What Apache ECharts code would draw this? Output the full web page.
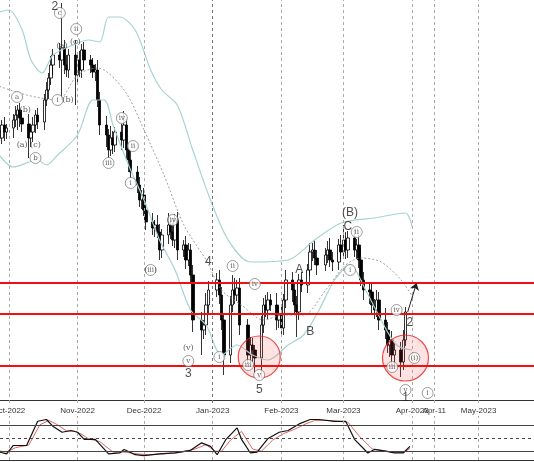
<!DOCTYPE html>
<html><head><meta charset="utf-8">
<script src="https://cdn.jsdelivr.net/npm/echarts@6/dist/echarts.min.js"></script>
<style>html,body{margin:0;padding:0;background:#fff}#c{width:534px;height:462px}</style>
</head><body><div id="c"></div>
<script>
const dates = [
'2022-09-26','2022-09-27','2022-09-28','2022-09-29','2022-09-30',
'2022-10-03','2022-10-04','2022-10-05','2022-10-06','2022-10-07',
'2022-10-10','2022-10-11','2022-10-12','2022-10-13','2022-10-14',
'2022-10-17','2022-10-18','2022-10-19','2022-10-20','2022-10-21',
'2022-10-24','2022-10-25','2022-10-26','2022-10-27','2022-10-28',
'2022-10-31','2022-11-01','2022-11-02','2022-11-03','2022-11-04',
'2022-11-07','2022-11-08','2022-11-09','2022-11-10','2022-11-11',
'2022-11-14','2022-11-15','2022-11-16','2022-11-17','2022-11-18',
'2022-11-21','2022-11-22','2022-11-23','2022-11-24','2022-11-25',
'2022-11-28','2022-11-29','2022-11-30','2022-12-01','2022-12-02',
'2022-12-05','2022-12-06','2022-12-07','2022-12-08','2022-12-09',
'2022-12-12','2022-12-13','2022-12-14','2022-12-15','2022-12-16',
'2022-12-19','2022-12-20','2022-12-21','2022-12-22','2022-12-23',
'2022-12-27','2022-12-28','2022-12-29','2022-12-30',
'2023-01-03','2023-01-04','2023-01-05','2023-01-06',
'2023-01-09','2023-01-10','2023-01-11','2023-01-12','2023-01-13',
'2023-01-17','2023-01-18','2023-01-19','2023-01-20',
'2023-01-23','2023-01-24','2023-01-25','2023-01-26','2023-01-27',
'2023-01-30','2023-01-31','2023-02-01','2023-02-02','2023-02-03',
'2023-02-06','2023-02-07','2023-02-08','2023-02-09','2023-02-10',
'2023-02-13','2023-02-14','2023-02-15','2023-02-16','2023-02-17',
'2023-02-21','2023-02-22','2023-02-23','2023-02-24',
'2023-02-27','2023-02-28','2023-03-01','2023-03-02','2023-03-03',
'2023-03-06','2023-03-07','2023-03-08','2023-03-09','2023-03-10',
'2023-03-13','2023-03-14','2023-03-15','2023-03-16','2023-03-17',
'2023-03-20','2023-03-21','2023-03-22','2023-03-23','2023-03-24',
'2023-03-27','2023-03-28','2023-03-29'];
const closes = [
270,262,275,268,272, 280,285,290,282,276, 262,268,275,285,278,
300,310,322,335,345, 340,352,335,330,345, 325,340,330,350,340,
335,328,330,300,275, 265,250,262,255,268, 260,275,250,240,228,
215,200,205,190,178, 172,175,168,150,165, 175,168,160,180,150,
155,140,150,125,80, 70,75,95,110, 120,105,80,45,
95,110,105,112,75, 45,55,50,42, 75,95,90,100,95,
80,85,72,100,120, 110,95,88,120,115, 130,148,150,142,135,
145,150,140,138, 155,148,160,150,162, 150,155,140,120,110,
108,95,90,100,80, 70,55,60,45,50, 38,60,88];
const upWick = [
6,10,5,8,4, 6,9,5,7,8, 10,6,8,5,7, 6,8,5,9,6, 12,45,8,10,6, 15,7,9,6,8,
5,7,6,10,8, 9,6,12,7,5, 8,14,6,7,9, 6,8,5,7,6, 9,5,10,8,6, 12,7,9,6,8,
5,9,7,6,10, 8,5,12,9, 7,10,8,6, 9,15,12,8,10, 6,8,7,5, 9,7,10,8,6,
12,8,9,6,10, 8,7,9,6,8, 6,9,7,10,8, 7,9,12,8, 6,10,15,8,7, 9,6,10,12,8,
7,9,6,10,8, 12,8,6,9,7, 8,10,5];
const downWick = [
8,12,6,9,7, 10,7,15,9,8, 20,9,10,8,7, 8,6,9,7,10, 8,40,9,7,8, 30,9,7,8,10,
8,6,9,7,10, 12,8,6,9,7, 10,8,9,12,6, 8,7,9,6,8, 7,9,6,10,8, 9,7,6,8,10,
7,9,6,8,12, 25,9,10,8, 7,9,10,20, 8,7,9,6,10, 9,8,12,15, 20,8,7,9,6,
10,8,9,7,8, 12,9,25,8,7, 8,6,9,7,10, 6,8,7,9, 8,7,6,9,8, 7,9,8,6,10,
12,8,9,7,10, 9,8,12,10,9, 15,8,6];
const bandUpper = [['2022-09-25',387],['2022-10-01',390],['2022-10-07',370],['2022-10-11',340],['2022-10-16',327],['2022-10-21',345],['2022-10-30',355],['2022-11-06',360],['2022-11-11',358],['2022-11-15',383],['2022-11-20',383],['2022-11-27',370],['2022-12-04',330],['2022-12-09',310],['2022-12-16',295],['2022-12-23',250],['2022-12-31',200],['2023-01-08',160],['2023-01-18',138],['2023-02-04',140],['2023-02-16',160],['2023-02-28',177],['2023-03-15',182],['2023-03-29',187],['2023-04-01',173]];
const bandLower = [['2022-09-25',250],['2022-10-03',233],['2022-10-14',240],['2022-10-18',235],['2022-10-23',245],['2022-11-01',265],['2022-11-08',300],['2022-11-13',300],['2022-11-17',275],['2022-11-24',235],['2022-12-01',200],['2022-12-08',160],['2022-12-15',130],['2022-12-22',90],['2022-12-29',75],['2023-01-05',45],['2023-01-12',55],['2023-01-19',45],['2023-01-26',40],['2023-02-04',55],['2023-02-11',65],['2023-02-18',90],['2023-02-25',120],['2023-03-04',135],['2023-03-11',110],['2023-03-18',80],['2023-03-25',55],['2023-04-01',50]];
const sma = [['2022-09-25',315],['2022-10-09',305],['2022-10-23',300],['2022-11-01',325],['2022-11-10',332],['2022-11-22',310],['2022-12-01',270],['2022-12-10',225],['2022-12-19',175],['2022-12-29',140],['2023-01-05',110],['2023-01-14',95],['2023-01-24',80],['2023-02-02',85],['2023-02-11',85],['2023-02-21',110],['2023-03-02',135],['2023-03-09',142],['2023-03-18',138],['2023-03-27',120],['2023-04-02',100]];
const oscK = [['2022-09-25',20],['2022-09-30',14],['2022-10-03',33],['2022-10-09',33],['2022-10-14',88],['2022-10-18',92],['2022-10-21',76],['2022-10-25',63],['2022-10-29',67],['2022-11-01',63],['2022-11-04',47],['2022-11-09',47],['2022-11-15',14],['2022-11-20',16],['2022-11-22',24],['2022-11-27',12],['2022-12-01',10],['2022-12-08',14],['2022-12-15',16],['2022-12-22',22],['2022-12-27',39],['2022-12-31',31],['2023-01-03',12],['2023-01-07',47],['2023-01-12',73],['2023-01-14',47],['2023-01-18',16],['2023-01-21',18],['2023-01-26',49],['2023-01-31',63],['2023-02-04',67],['2023-02-09',82],['2023-02-14',92],['2023-02-18',92],['2023-02-25',88],['2023-03-02',88],['2023-03-06',47],['2023-03-12',16],['2023-03-15',24],['2023-03-20',20],['2023-03-24',16],['2023-03-28',16],['2023-03-31',31]];
const oscD = [['2022-09-25',22],['2022-09-30',18],['2022-10-04',28],['2022-10-10',34],['2022-10-15',80],['2022-10-19',90],['2022-10-23',80],['2022-10-27',66],['2022-10-31',65],['2022-11-03',58],['2022-11-06',48],['2022-11-11',42],['2022-11-17',18],['2022-11-22',18],['2022-11-28',14],['2022-12-03',12],['2022-12-10',14],['2022-12-17',17],['2022-12-24',25],['2022-12-29',35],['2023-01-02',20],['2023-01-05',20],['2023-01-09',45],['2023-01-14',65],['2023-01-19',25],['2023-01-23',20],['2023-01-28',45],['2023-02-02',60],['2023-02-07',70],['2023-02-12',82],['2023-02-16',90],['2023-02-22',90],['2023-03-03',86],['2023-03-08',55],['2023-03-14',25],['2023-03-18',22],['2023-03-23',18],['2023-03-28',17],['2023-03-31',26]];
const hLevels = [117, 86, 34];
const oscLevels = [80, 50, 20];
const monthTicks = ['2022-10-01','2022-11-01','2022-12-01','2023-01-01','2023-02-01','2023-03-01','2023-04-01','2023-04-11','2023-05-01'];
const monthNames = ['Jan','Feb','Mar','Apr','May','Jun','Jul','Aug','Sep','Oct','Nov','Dec'];
const waveLabels = [
[20.7,393,'2','big'],[81,26,'3','big'],[90,138,'4','big'],[113,10,'5','big'],
[131,130,'A','big'],[136,68,'B','big'],[153,173,'C','big'],[154,187,'(B)','big'],
[181,77,'2','big'],[179,2,'1','big'],
[23,387,'c','circ'],[30.4,371,'ii','circ'],[24,354,'(a)','plain'],[30,358,'(c)','plain'],
[22,300,'i','circ'],[26.7,300,'(b)','plain'],[3.7,303,'a','circ'],[7.4,290,'(b)','plain'],
[6,255,'(a)','plain'],[12,255,'(c)','plain'],[12,242,'b','circ'],
[51,282,'iv','circ'],[56,254,'ii','circ'],[45,237,'iii','circ'],[55,217,'i','circ'],
[74,180,'(iv)','circ'],[64,130,'(iii)','circ'],[81,52,'(v)','plain'],[81,39,'v','circ'],
[101,134,'ii','circ'],[95,43,'i','circ'],[111,116,'iv','circ'],[108,35,'iii','circ'],[113,25,'v','circ'],
[154,130,'i','circ'],[157,168,'ii','circ'],[175,90,'iv','circ'],[173,33,'iii','circ'],
[183,42,'(i)','circ'],[179,10,'v','circ'],[189,7,'i','circ']];
const redCircles = [['2023-01-22',43,42],['2023-03-29',42,46]];
const arrowSeg = [['2023-03-30',88],['2023-04-03',117]];

const ts = s => new Date(s + 'T00:00:00Z').getTime();
const day0 = Date.UTC(2022, 9, 1);
const candles = dates.map((d, i) => {
  const o = i === 0 ? closes[0] - 4 : closes[i - 1];
  const c = closes[i];
  return [ts(d), o, c, Math.min(o, c) - downWick[i], Math.max(o, c) + upWick[i]];
});
const xMin = ts('2022-09-27'), xMax = ts('2023-05-26');
const fmt = v => { const d = new Date(v); return d.getUTCDate() === 11 ? 'Apr-11' : monthNames[d.getUTCMonth()] + '-' + d.getUTCFullYear(); };

const labelSeries = ['big', 'circ', 'plain'].map(st => ({
  type: 'scatter', xAxisIndex: 0, yAxisIndex: 0, z: 5,
  symbol: 'circle', symbolSize: st === 'circ' ? 11 : 1,
  itemStyle: st === 'circ' ? { color: '#fff', borderColor: '#666', borderWidth: 0.8 } : { color: 'rgba(0,0,0,0)' },
  label: {
    show: true, position: 'inside', formatter: p => p.data[2],
    fontFamily: st === 'big' ? 'Liberation Sans' : 'DejaVu Serif',
    fontSize: st === 'big' ? 12 : (st === 'circ' ? 7 : 8), color: st === 'big' ? '#222' : '#333'
  },
  data: waveLabels.filter(l => l[3] === st).map(l => [day0 + l[0] * 864e5, l[1], l[2]])
}));

const chart = echarts.init(document.getElementById('c'));
chart.setOption({
  animation: false,
  grid: [{ left: 0, right: 0, top: 0, bottom: 59, outerBoundsMode: 'none', containLabel: false },
         { left: 0, right: 0, top: 416, height: 44, outerBoundsMode: 'none', containLabel: false }],
  xAxis: [
    { type: 'value', gridIndex: 0, min: xMin, max: xMax,
      axisLine: { lineStyle: { color: '#333' } }, splitLine: { show: false },
      axisTick: { customValues: monthTicks.map(ts), length: 3, lineStyle: { color: '#333' } },
      axisLabel: { customValues: monthTicks.map(ts), formatter: fmt, fontSize: 8, color: '#333', margin: 4, fontFamily: 'Liberation Sans', hideOverlap: false } },
    { type: 'value', gridIndex: 1, min: xMin, max: xMax, axisLabel: { show: false }, axisTick: { show: false },
      axisLine: { lineStyle: { color: '#333' } }, splitLine: { show: false } }
  ],
  yAxis: [
    { type: 'value', gridIndex: 0, min: -3, max: 400, show: false, splitLine: { show: false } },
    { type: 'value', gridIndex: 1, min: 0, max: 100, show: false, splitLine: { show: false } }
  ],
  series: [
    { type: 'line', xAxisIndex: 0, yAxisIndex: 0, data: [], symbol: 'none',
      markLine: { silent: true, symbol: 'none', label: { show: false },
        data: monthTicks.map(m => ({ xAxis: ts(m), lineStyle: { color: m === '2023-01-01' ? '#777' : '#aaa', type: [3, 3], width: 1 } })) } },
    { type: 'line', xAxisIndex: 1, yAxisIndex: 1, data: [], symbol: 'none',
      markLine: { silent: true, symbol: 'none', label: { show: false },
        data: monthTicks.map(m => ({ xAxis: ts(m), lineStyle: { color: '#aaa', type: [3, 3], width: 1 } }))
          .concat(oscLevels.map(v => ({ yAxis: v, lineStyle: { color: '#444', type: v === 50 ? [3, 3] : 'solid', width: 1 } }))) } },
    { type: 'line', data: bandUpper.map(p => [ts(p[0]), p[1]]), symbol: 'none', smooth: 0.3, lineStyle: { color: '#a7d3d3', width: 1.2 } },
    { type: 'line', data: bandLower.map(p => [ts(p[0]), p[1]]), symbol: 'none', smooth: 0.3, lineStyle: { color: '#a7d3d3', width: 1.2 } },
    { type: 'line', data: sma.map(p => [ts(p[0]), p[1]]), symbol: 'none', smooth: 0.3, lineStyle: { color: '#888', width: 0.8, type: [2, 2] } },
    { type: 'candlestick', data: candles, barMaxWidth: 3, barWidth: 3,
      itemStyle: { color: '#fff', color0: '#000', borderColor: '#000', borderColor0: '#000', borderWidth: 0.8 },
      markLine: { silent: true, symbol: 'none', label: { show: false },
        data: hLevels.map(v => ({ yAxis: v, lineStyle: { color: '#f01010', width: 2, type: 'solid' } }))
          .concat([[{ coord: [ts(arrowSeg[0][0]), arrowSeg[0][1]], symbol: 'none', lineStyle: { color: '#222', width: 1, type: 'solid' } },
                    { coord: [ts(arrowSeg[1][0]), arrowSeg[1][1]], symbol: 'arrow', symbolSize: 7 }]]) } },
    { type: 'scatter', z: 4, data: redCircles.map(r => [ts(r[0]), r[1], r[2]]), symbolSize: d => d[2],
      itemStyle: { color: 'rgba(255,60,60,0.18)', borderColor: '#e82020', borderWidth: 1.2 } },
    ...labelSeries,
    { type: 'line', xAxisIndex: 1, yAxisIndex: 1, data: oscD.map(p => [ts(p[0]), p[1]]), symbol: 'none', lineStyle: { color: '#d66', width: 1 } },
    { type: 'line', xAxisIndex: 1, yAxisIndex: 1, data: oscK.map(p => [ts(p[0]), p[1]]), symbol: 'none', lineStyle: { color: '#111', width: 1.2 } }
  ]
});
</script></body></html>
